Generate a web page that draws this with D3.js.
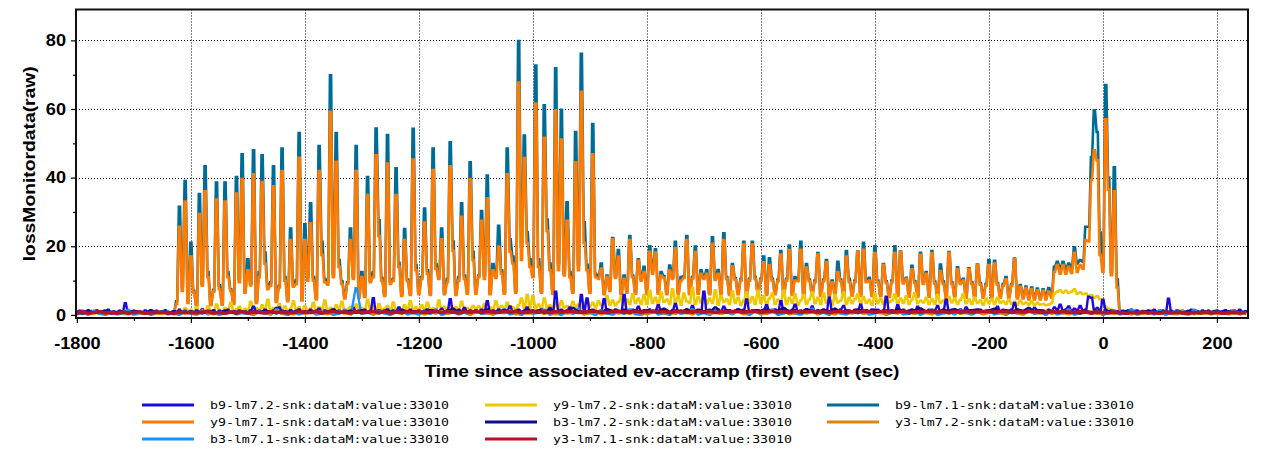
<!DOCTYPE html>
<html>
<head>
<meta charset="utf-8">
<script src="https://cdn.jsdelivr.net/npm/d3@7"></script>
<style>
  body { margin: 0; background: #fff; }
  svg { display: block; }
</style>
</head>
<body>
<svg id="chart" width="1261" height="449"></svg>
<script>
// Sample clocks of the loss-monitor channels (seconds relative to ev-accramp)
const fineStart = -1800, fineStep = 5;
const coarseStart = -1800, coarseStep = 10;

// Axis ticks
const xTicks = [-1800, -1600, -1400, -1200, -1000, -800, -600, -400, -200, 0, 200];
const xMinorTicks = [-1700, -1500, -1300, -1100, -900, -700, -500, -300, -100, 100];
const yTicks = [0, 20, 40, 60, 80];
const yMinorTicks = [10, 30, 50, 70];

// y9-lm7.1 (5 s samples)
const y9lm71 = [
  0.6,0.4,0.8,0.5,0.3,0.7,0.5,0.9,0.4,0.6,0.3,0.8,0.5,0.6,0.4,0.7,0.5,0.3,0.8,0.6,
  0.5,0.7,0.4,0.6,0.8,0.5,0.3,0.6,0.7,0.4,0.5,0.8,0.6,0.4,0.7,3.2,25.7,7.0,33.0,3.5,
  17.0,6.5,2.5,29.4,8.5,36.0,11.0,2.8,6.8,33.6,7.5,3.0,33.0,11.0,7.0,3.2,35.4,9.5,39.6,6.5,
  13.0,8.6,41.0,3.5,11.0,38.7,15.0,7.5,8.5,37.5,3.8,8.0,41.9,10.0,4.0,21.8,8.2,9.0,45.8,4.2,
  21.8,10.0,26.7,10.0,4.5,41.9,17.5,9.5,8.8,59.2,11.0,44.6,14.0,9.0,4.8,9.0,21.8,10.5,41.9,5.0,
  11.0,5.2,34.9,9.5,11.0,46.5,23.0,10.0,5.5,44.1,9.0,10.0,34.9,14.0,5.5,21.8,9.8,5.8,45.3,13.0,
  6.0,10.5,26.9,12.0,5.8,42.2,13.5,10.5,22.0,6.0,9.5,43.3,18.7,5.8,10.0,28.6,10.5,6.2,39.5,16.0,
  6.2,11.0,27.4,10.5,34.0,6.0,13.0,10.8,19.9,12.0,6.2,41.0,18.5,15.0,6.5,67.7,16.0,45.7,20.9,14.0,
  11.0,61.6,14.0,6.5,51.6,24.5,13.0,6.2,59.6,13.0,51.1,11.5,27.4,11.0,6.5,44.5,13.0,65.0,21.0,13.0,
  6.5,46.8,11.0,10.5,13.5,6.0,11.0,7.0,22.0,10.8,17.0,6.0,10.5,6.5,21.8,11.0,6.2,15.8,10.0,12.5,
  6.0,18.4,12.0,18.2,6.2,11.5,10.8,6.0,12.9,10.5,19.4,6.2,10.0,10.8,21.8,6.0,10.5,18.3,6.2,12.0,
  10.5,12.0,6.0,20.7,10.2,12.0,6.0,21.8,10.5,5.8,14.2,10.2,6.0,10.0,20.5,5.8,10.0,20.5,10.5,6.0,
  10.0,15.3,5.8,14.5,10.0,6.0,9.8,17.6,5.6,10.0,18.9,5.8,10.0,9.8,19.0,5.6,13.8,9.8,5.8,9.5,
  17.6,5.5,9.8,15.3,5.5,9.5,5.8,12.5,9.8,5.5,17.0,9.5,5.6,9.5,18.3,5.5,19.0,9.5,10.0,5.5,
  18.0,9.5,5.5,14.5,9.3,5.2,9.5,18.0,5.5,18.3,9.2,10.5,5.3,13.3,9.3,5.2,17.5,9.0,12.0,5.3,
  18.0,9.2,5.2,12.8,9.0,5.0,18.1,9.0,5.2,13.3,9.0,10.0,5.0,13.3,9.0,5.0,14.5,8.8,5.0,8.5,
  14.5,5.0,15.0,8.8,5.0,8.5,10.4,4.8,8.5,16.2,4.8,8.2,4.8,7.8,4.5,7.5,4.5,7.2,4.5,7.0,
  4.5,6.8,5.0,12.5,14.5,12.0,14.5,12.0,14.0,12.2,18.1,12.5,14.5,13.5,21.8,21.4,39.3,48.0,45.0,17.5,
  12.6,57.0,36.5,11.6,36.0,8.0,0.8,0.5,0.7,0.4,0.6,0.8,0.5,0.3,0.7,0.6,0.4,0.8,0.5,0.6,
  0.7,0.4,0.6,0.5,0.8,0.3,0.6,0.7,0.4,0.5,0.8,0.6,0.3,0.7,0.5,0.6,0.4,0.8,0.5,0.7,
  0.5,0.6,0.4,0.7,0.5,0.8,0.6,0.4,0.7,0.5,0.6,0.4
];

// b9-lm7.1 (5 s samples)
const b9lm71 = [
  1.0,0.8,1.2,0.9,0.7,1.1,0.9,1.3,0.8,1.0,0.7,1.2,0.9,1.0,0.8,1.1,0.9,0.7,1.2,1.0,
  0.7,0.9,0.6,0.8,1.0,0.7,0.5,0.8,0.9,0.6,0.7,1.0,0.8,0.6,0.9,4.0,31.5,8.3,39.0,4.2,
  21.0,7.0,3.0,35.2,9.2,43.3,12.5,3.3,7.3,38.6,8.6,3.5,38.6,12.5,7.5,3.7,40.2,10.5,46.8,7.0,
  16.2,9.2,48.0,4.0,12.5,46.5,18.2,8.0,9.5,43.3,4.3,8.5,48.5,11.0,4.5,25.2,8.7,10.2,53.0,4.7,
  26.4,11.0,32.5,11.0,5.0,49.2,21.3,10.5,9.3,69.8,12.0,53.0,16.0,9.8,5.3,9.5,25.2,11.2,49.2,5.5,
  12.5,5.7,40.2,10.0,12.5,54.3,27.6,10.8,6.0,52.4,9.8,10.5,42.7,15.2,6.0,25.0,10.3,6.3,54.2,14.5,
  6.5,11.0,31.0,13.0,6.3,48.5,14.8,11.0,25.2,6.5,10.5,50.3,21.4,6.3,11.0,32.5,11.5,6.7,44.5,18.4,
  6.7,11.5,30.3,11.5,40.6,6.5,14.8,11.3,26.0,13.0,6.7,48.5,22.0,17.0,7.0,79.8,20.0,52.3,24.1,16.2,
  11.5,72.7,16.2,7.0,61.1,27.8,15.0,6.7,71.9,15.0,59.8,12.0,32.8,12.5,7.0,53.3,14.6,76.1,27.0,14.6,
  7.0,55.6,12.0,11.0,15.0,6.5,11.5,7.5,22.4,11.3,18.9,6.5,11.5,7.0,23.0,11.5,6.7,16.2,10.5,14.0,
  6.5,20.0,13.0,19.1,6.7,12.5,11.3,6.5,14.4,11.0,21.3,6.7,11.0,11.3,23.0,6.5,11.0,19.9,6.7,13.0,
  11.0,13.0,6.5,22.6,10.7,13.1,6.5,23.8,11.0,6.3,14.8,10.7,6.5,10.5,21.3,6.3,10.5,21.3,11.0,6.5,
  10.5,17.0,6.3,16.5,10.5,6.5,10.3,18.6,6.1,10.5,20.2,6.3,11.0,10.3,21.3,6.1,14.8,10.3,6.3,10.0,
  18.0,6.0,10.3,16.0,6.0,10.0,6.3,15.5,10.3,6.0,18.6,10.5,6.1,10.0,18.5,6.0,21.0,10.0,10.8,6.0,
  20.0,10.0,6.0,14.8,9.8,5.7,10.0,20.0,6.0,18.5,9.7,10.8,5.8,14.3,9.8,5.7,18.1,9.5,12.5,5.8,
  18.6,9.7,5.7,14.7,9.8,5.5,18.3,9.5,5.7,13.9,9.5,10.5,5.5,13.6,9.5,5.5,14.7,9.3,5.5,9.0,
  16.0,5.5,15.8,9.3,5.5,9.0,11.0,5.3,9.0,16.4,5.3,8.7,5.3,8.3,5.0,8.0,5.0,7.7,5.0,7.5,
  5.5,7.8,6.0,14.0,15.5,13.5,15.5,13.5,15.0,13.7,19.7,15.0,16.0,15.5,25.7,25.7,46.0,59.6,53.3,24.0,
  14.0,67.0,40.0,12.5,43.0,10.4,1.2,0.9,1.1,0.8,1.0,1.2,0.9,0.7,1.1,1.0,0.8,1.2,0.9,1.0,
  1.1,0.8,1.0,0.9,1.2,0.7,1.0,1.1,0.8,0.9,1.2,1.0,0.7,1.1,0.9,1.0,0.8,1.2,0.9,1.1,
  0.9,1.0,0.8,1.1,0.9,1.2,1.0,0.8,1.1,0.9,1.0,0.8
];

// y9-lm7.2 (5 s samples)
const y9lm72 = [
  0.4,0.7,0.3,0.9,0.5,0.6,1.0,0.4,0.8,0.5,0.3,0.7,0.6,0.9,0.4,0.5,0.8,0.3,0.6,0.7,
  0.5,0.8,0.4,0.6,1.1,0.5,0.7,0.3,0.9,0.6,0.4,0.8,0.5,0.7,0.6,1.0,1.5,0.8,2.0,1.2,
  1.5,0.8,2.2,1.0,1.8,0.9,2.5,1.2,0.8,3.0,1.5,1.0,2.0,1.2,3.5,1.0,1.6,2.4,0.9,1.8,
  1.2,3.8,1.5,2.0,1.0,2.8,1.4,4.4,1.2,2.0,1.0,3.2,1.5,2.5,1.1,1.8,4.0,1.3,2.2,1.0,
  2.6,1.2,1.8,3.5,1.0,2.2,1.5,4.2,1.3,2.0,1.0,2.8,1.6,3.8,1.2,1.5,2.4,1.0,3.0,1.4,
  2.0,1.2,4.4,1.5,2.5,1.0,3.2,1.4,1.8,2.6,1.1,3.6,1.5,2.0,1.2,2.8,1.6,4.0,1.3,2.2,
  1.5,2.8,1.2,3.5,1.6,2.0,1.2,4.2,1.5,2.4,1.3,3.0,1.6,2.2,1.2,3.8,1.5,2.0,1.4,2.6,
  1.8,2.5,1.3,3.2,1.6,2.2,1.4,4.0,1.8,2.6,1.5,3.5,1.7,2.2,1.5,2.8,4.8,2.0,5.8,2.2,
  5.5,2.0,3.0,1.8,4.8,2.2,2.8,1.8,3.5,2.0,4.0,2.2,2.6,1.8,3.8,2.4,3.0,2.0,2.8,4.5,
  2.5,3.5,2.2,4.0,2.8,3.2,5.5,3.0,4.2,2.8,3.8,5.2,3.0,4.5,3.2,6.0,3.5,4.8,3.2,5.8,
  3.2,7.0,3.5,5.0,3.0,6.5,3.8,4.5,3.2,7.5,3.5,5.5,3.0,6.2,4.0,3.5,7.8,3.2,5.2,3.6,
  6.0,3.2,4.8,3.5,7.2,3.0,5.5,3.8,4.5,3.2,6.8,3.5,5.0,3.0,4.2,6.5,3.5,5.2,3.2,7.0,
  3.5,5.5,3.0,4.8,6.2,3.2,4.5,3.6,7.0,3.2,5.0,3.5,6.0,3.0,4.2,5.8,3.2,4.5,6.5,3.4,
  5.0,3.2,6.2,3.5,4.5,3.0,5.8,3.6,4.2,6.5,3.2,5.0,3.4,4.6,6.0,3.2,5.2,3.5,4.4,3.0,
  6.2,3.4,4.8,3.2,5.5,3.6,4.2,6.0,3.2,4.8,3.5,5.4,3.2,4.5,6.3,3.4,4.2,3.6,5.0,3.2,
  4.6,3.3,5.8,3.5,4.2,3.2,5.2,3.6,4.8,3.2,4.4,6.0,3.4,4.5,3.2,5.0,3.5,4.2,3.0,4.8,
  3.4,4.6,3.2,5.0,3.5,4.0,3.2,4.5,3.3,3.8,3.0,4.2,3.2,3.6,3.0,4.0,2.8,3.5,3.0,3.2,
  2.8,3.0,3.5,6.2,6.8,7.2,6.5,7.0,6.4,6.8,7.5,6.2,6.6,6.0,6.2,5.5,5.8,5.0,5.5,4.6,
  3.2,2.4,1.8,1.5,1.2,0.8,0.5,0.7,0.4,0.6,0.3,0.8,0.5,0.7,0.4,0.6,0.5,0.9,0.4,0.6,
  0.5,0.8,0.4,0.6,0.3,0.7,0.5,0.9,0.4,0.6,0.8,0.5,0.3,0.7,0.6,0.4,0.8,0.5,0.6,0.4,
  0.7,0.5,0.8,0.4,0.6,0.3,0.7,0.5,0.9,0.4,0.6,0.5
];

// b9-lm7.2 (5 s samples)
const b9lm72 = [
  0.8,1.2,0.5,1.0,1.4,0.6,0.9,1.3,0.4,1.1,0.7,1.5,0.6,1.0,0.5,1.2,0.8,3.4,0.7,1.0,
  0.6,1.1,0.9,0.4,1.3,0.7,1.0,0.5,1.2,0.8,0.6,1.4,0.9,0.5,1.1,0.7,1.5,0.8,1.2,0.6,
  1.0,0.5,1.3,0.8,1.6,0.6,1.1,0.9,1.4,0.5,1.2,0.8,1.0,1.5,0.6,1.1,0.9,1.3,0.7,1.0,
  0.8,1.4,2.4,0.9,1.2,0.6,1.5,1.0,0.7,1.3,2.0,2.2,0.8,1.1,0.6,1.4,0.9,1.2,1.6,0.7,
  1.1,0.8,1.5,0.6,1.2,1.8,0.9,1.3,0.7,1.0,1.6,0.8,1.2,0.6,1.4,0.9,1.1,2.0,0.7,1.3,
  0.9,1.5,0.8,1.2,4.9,0.9,1.4,0.7,1.1,1.6,0.8,1.3,1.0,2.2,0.7,1.2,0.9,1.5,0.8,1.1,
  1.3,0.8,1.2,1.6,0.9,1.4,0.7,1.1,1.8,0.9,1.2,4.6,1.0,0.8,1.5,1.1,2.0,0.9,1.3,0.8,
  1.2,0.9,1.5,1.1,4.0,0.8,1.3,1.0,1.6,0.9,1.2,1.4,2.5,0.8,1.1,1.5,0.9,1.3,2.2,1.0,
  1.4,0.9,1.2,1.6,1.0,1.3,2.0,0.9,6.8,1.2,1.5,1.0,1.3,2.2,0.8,1.4,1.1,5.8,1.2,4.8,
  1.0,1.5,1.2,0.9,1.4,4.6,1.1,1.3,0.8,1.6,1.2,1.0,5.8,1.3,0.9,1.5,1.1,2.4,1.0,1.4,
  1.2,1.6,0.9,1.3,2.8,1.0,1.5,1.2,0.8,1.4,3.2,1.1,1.3,0.9,1.6,1.2,2.6,1.0,1.4,1.1,
  6.8,1.2,1.5,0.9,1.3,1.6,1.0,2.4,1.2,1.4,0.9,1.3,1.7,1.0,1.5,4.5,1.1,1.3,0.9,1.4,
  1.2,1.5,2.8,1.0,1.3,1.6,0.9,4.0,1.2,1.4,1.0,1.5,3.0,1.1,1.3,0.9,1.6,1.2,2.5,1.0,
  1.4,1.1,1.5,0.9,5.0,1.2,1.4,1.0,1.6,2.6,1.1,1.3,0.9,1.5,1.2,3.0,1.0,1.4,1.1,1.6,
  1.2,1.5,1.0,1.3,5.2,1.1,1.4,0.9,2.8,1.2,1.5,1.0,1.3,1.6,0.9,2.4,1.2,1.4,1.0,1.5,
  1.1,1.4,2.6,1.0,1.3,4.4,1.2,1.5,0.9,1.3,1.6,1.0,2.2,1.2,1.4,0.9,1.3,1.5,1.0,1.2,
  1.4,1.0,1.3,2.4,1.1,1.5,0.9,1.2,1.6,3.5,1.0,1.3,1.1,1.5,0.9,1.2,2.0,1.4,1.0,1.3,
  1.1,1.5,1.2,2.2,1.4,3.0,1.3,1.6,2.5,1.2,1.8,1.4,2.6,1.3,1.6,5.3,5.0,1.4,2.0,1.2,
  4.4,1.5,1.0,1.3,0.8,1.1,0.6,1.2,0.9,1.4,0.7,1.0,1.3,0.8,1.1,0.6,1.2,0.9,1.5,0.7,
  1.0,1.3,0.8,4.7,1.1,0.7,1.4,0.9,1.2,0.6,1.0,1.5,0.8,1.1,0.7,1.3,0.9,1.2,0.6,1.0,
  1.3,0.8,1.1,1.4,0.7,1.0,1.2,0.9,1.5,0.8,1.1,0.9
];

// b3-lm7.1 (10 s samples)
const b3lm71 = [
  0.2,0.6,0.1,1.2,0.3,0.0,0.8,0.2,0.4,1.5,0.1,0.3,0.7,0.0,0.5,1.1,0.2,0.4,0.0,0.9,
  0.3,0.1,1.4,0.2,0.6,0.0,0.4,1.0,0.2,0.5,0.3,0.0,0.9,0.5,0.1,1.6,0.3,0.0,0.7,0.2,
  0.5,1.2,0.1,0.3,0.8,0.0,0.4,1.5,0.2,7.8,0.3,0.6,0.1,1.0,0.4,0.0,0.7,1.3,0.2,0.5,
  0.1,0.9,0.3,1.6,0.0,0.4,1.1,0.2,0.6,0.0,1.4,0.3,0.5,0.1,0.8,1.7,0.2,0.4,0.0,1.2,
  0.3,0.6,1.5,0.1,0.4,0.0,1.0,0.3,1.8,0.2,0.5,0.0,1.3,0.4,0.1,0.9,0.3,1.6,0.2,0.0,
  0.6,1.4,0.2,0.4,0.0,1.1,0.3,0.7,1.7,0.1,0.5,0.0,1.2,0.3,0.8,0.2,1.5,0.4,0.0,1.0,
  0.2,0.5,1.6,0.0,0.4,1.2,0.3,0.1,0.9,1.8,0.2,0.6,0.0,1.3,0.4,0.2,1.0,0.5,1.4,0.1,
  0.4,1.1,0.0,0.6,1.5,0.2,0.3,1.2,0.1,0.7,1.6,0.0,0.4,0.9,0.2,1.3,0.5,0.1,0.8,0.3,
  1.4,0.2,0.6,0.0,1.0,0.4,0.1,1.5,0.3,0.7,0.0,1.2,0.2,0.5,1.6,0.1,0.4,0.9,0.3,1.1,
  0.0,0.6,1.3,0.2,0.4,1.7,0.1,0.5,0.9,0.2,1.4,0.0,0.6,1.2,0.3,0.1,1.5,0.4,0.8,0.2,
  1.0,0.3,0.6,1.4,0.2,0.5
];

// b3-lm7.2 (10 s samples)
const b3lm72 = [
  0.8,0.5,1.1,0.6,0.9,1.3,0.4,0.7,1.0,0.5,1.2,0.8,0.6,1.4,0.7,0.9,0.5,1.1,0.8,0.6,
  1.0,0.7,0.5,1.2,0.9,0.6,1.3,0.8,0.4,1.1,0.7,1.0,0.6,1.4,0.8,0.5,1.2,0.9,0.7,1.1,
  0.6,1.3,0.9,0.5,1.0,1.6,0.7,0.9,1.2,0.6,1.4,0.8,1.0,0.5,1.3,0.9,0.7,1.5,0.8,1.1,
  0.9,0.6,1.4,1.0,0.7,1.2,1.8,0.8,1.1,0.6,1.3,0.9,1.6,0.7,1.0,1.4,0.8,1.2,0.6,1.5,
  1.0,1.3,0.7,1.6,0.9,1.2,0.8,2.0,1.1,0.7,1.4,1.0,0.8,1.7,1.2,0.9,1.5,0.7,1.3,1.0,
  1.4,0.8,1.2,1.8,0.9,1.3,1.0,1.6,0.7,1.5,1.1,0.9,2.2,1.0,1.3,0.8,1.6,1.2,0.9,1.4,
  1.1,1.6,0.9,1.3,2.0,1.0,1.4,0.8,1.7,1.2,0.9,1.5,1.1,1.8,0.8,1.3,1.0,1.6,1.2,0.9,
  1.5,1.0,1.3,0.8,1.7,1.2,0.9,1.4,1.9,1.0,1.3,0.8,1.5,1.1,1.7,0.9,1.2,1.4,1.6,1.0,
  1.3,1.8,1.0,1.4,0.9,1.6,1.2,2.0,1.0,1.4,0.8,1.1,0.7,1.0,0.6,0.9,0.5,1.1,0.7,0.9,
  0.6,1.0,0.7,0.5,1.1,0.8,0.6,0.9,1.2,0.5,0.8,1.0,0.6,0.9,0.7,1.1,0.5,0.8,1.0,0.6,
  0.9,0.7,1.1,0.5,0.8,0.6
];

// y3-lm7.1 (10 s samples)
const y3lm71 = [
  0.6,0.8,0.5,0.7,0.9,0.6,0.7,0.5,0.8,0.6,0.7,0.9,0.5,0.6,0.8,0.7,0.6,0.5,0.8,0.7,
  0.7,0.6,0.8,0.9,0.6,0.7,0.5,0.8,0.7,0.9,0.6,0.8,0.7,0.6,0.9,0.7,0.8,0.6,0.7,0.9,
  0.8,0.7,0.9,0.6,0.8,1.0,0.7,0.8,0.6,0.9,0.7,0.8,1.0,0.7,0.9,0.6,0.8,0.7,0.9,0.8,
  0.9,0.7,0.8,1.0,0.7,0.9,0.8,0.6,0.9,0.8,1.0,0.7,0.9,0.8,0.7,1.0,0.8,0.9,0.7,0.8,
  0.9,0.8,1.0,0.7,0.9,0.8,1.0,0.9,0.7,0.8,1.0,0.9,0.8,0.7,0.9,1.0,0.8,0.9,1.0,0.8,
  0.9,1.0,0.8,0.9,0.7,1.0,0.9,0.8,1.0,0.9,0.8,1.0,0.7,0.9,0.8,1.0,0.9,0.8,0.9,1.0,
  0.8,0.9,1.0,0.8,0.9,0.7,1.0,0.8,0.9,1.0,0.8,0.9,0.7,0.9,1.0,0.8,0.9,0.8,1.0,0.9,
  0.8,1.0,0.9,0.8,0.9,1.0,0.7,0.9,0.8,1.0,0.9,0.8,0.9,0.7,1.0,0.8,0.9,0.8,0.9,1.0,
  0.9,0.8,1.0,0.9,0.7,0.9,0.8,1.0,0.9,0.8,0.7,0.9,0.8,0.9,0.8,0.7,0.9,0.8,0.6,0.8,
  0.7,0.6,0.8,0.7,0.5,0.7,0.6,0.8,0.6,0.7,0.5,0.8,0.6,0.7,0.6,0.5,0.7,0.6,0.8,0.6,
  0.7,0.5,0.6,0.8,0.6,0.7
];

// y3-lm7.2 (10 s samples)
const y3lm72 = [
  0.4,0.9,0.2,0.6,1.1,0.3,0.7,0.5,1.0,0.2,0.8,0.4,0.6,1.2,0.3,0.5,0.9,0.2,0.7,0.4,
  0.6,0.3,1.0,0.5,0.2,0.8,0.4,1.1,0.3,0.7,0.5,0.2,0.9,0.6,0.3,1.2,0.4,0.7,0.2,0.8,
  0.3,0.7,0.5,1.0,0.2,0.6,0.9,0.4,0.3,1.1,0.5,0.8,0.2,0.6,1.0,0.4,0.7,0.3,0.9,0.5,
  0.8,0.2,0.6,0.4,1.1,0.3,0.7,0.5,0.9,0.2,0.6,1.0,0.4,0.3,0.8,0.5,1.2,0.2,0.6,0.4,
  0.5,1.0,0.3,0.7,0.2,0.9,0.4,0.6,1.1,0.3,0.5,0.8,0.2,0.7,1.0,0.4,0.6,0.3,0.9,0.5,
  0.2,0.7,1.0,0.4,0.6,0.3,0.9,0.5,0.2,0.8,1.1,0.4,0.6,0.3,0.7,0.5,1.0,0.2,0.6,0.8,
  0.4,0.3,0.8,0.6,1.0,0.2,0.5,0.9,0.4,0.7,0.3,1.1,0.5,0.2,0.8,0.6,0.4,1.0,0.3,0.7,
  0.9,0.5,0.2,0.7,0.4,1.1,0.6,0.3,0.8,0.5,0.2,0.9,0.7,0.4,1.0,0.3,0.6,0.5,0.8,0.2,
  0.6,1.0,0.4,0.3,0.8,0.5,0.2,0.9,0.6,0.4,1.1,0.3,0.7,0.5,0.2,0.8,0.4,0.6,1.0,0.3,
  0.5,0.8,0.3,0.6,1.0,0.2,0.7,0.4,0.9,0.5,0.3,0.8,0.6,0.2,1.1,0.4,0.7,0.3,0.5,0.9,
  0.4,0.6,0.2,0.8,0.5,0.3
];

// Channel table: legend slot (col,row), stacking order, colour
const channels = [
  { label: "b9-lm7.2-snk:dataM:value:33010", values: b9lm72, start: fineStart,   step: fineStep,   color: "#1e0adc", width: 2.4, col: 0, row: 0, z: 3 },
  { label: "y9-lm7.1-snk:dataM:value:33010", values: y9lm71, start: fineStart,   step: fineStep,   color: "#ff7b00", width: 2.6, col: 0, row: 1, z: 1 },
  { label: "b3-lm7.1-snk:dataM:value:33010", values: b3lm71, start: coarseStart, step: coarseStep, color: "#1e90ff", width: 2.4, col: 0, row: 2, z: 4 },
  { label: "y9-lm7.2-snk:dataM:value:33010", values: y9lm72, start: fineStart,   step: fineStep,   color: "#eec800", width: 2.6, col: 1, row: 0, z: 2 },
  { label: "b3-lm7.2-snk:dataM:value:33010", values: b3lm72, start: coarseStart, step: coarseStep, color: "#0c0c8c", width: 2.4, col: 1, row: 1, z: 6 },
  { label: "y3-lm7.1-snk:dataM:value:33010", values: y3lm71, start: coarseStart, step: coarseStep, color: "#b41428", width: 3.6, col: 1, row: 2, z: 7 },
  { label: "b9-lm7.1-snk:dataM:value:33010", values: b9lm71, start: fineStart,   step: fineStep,   color: "#006c96", width: 2.6, col: 2, row: 0, z: 0 },
  { label: "y3-lm7.2-snk:dataM:value:33010", values: y3lm72, start: coarseStart, step: coarseStep, color: "#e0860a", width: 2.4, col: 2, row: 1, z: 5 }
];

const svg = d3.select("#chart");
const plot = { left: 76, right: 1248, top: 9.5, bottom: 318 };

const x = d3.scaleLinear().domain([-1801.5, 254.5]).range([plot.left, plot.right]);
const y = d3.scaleLinear().domain([-0.9, 89]).range([plot.bottom, plot.top]);

svg.append("rect").attr("width", 1261).attr("height", 449).attr("fill", "#fff");

svg.append("defs").append("clipPath").attr("id", "plot-clip")
  .append("rect")
  .attr("x", plot.left).attr("y", plot.top)
  .attr("width", plot.right - plot.left).attr("height", plot.bottom - plot.top);

// Dotted grid at the major ticks
const grid = svg.append("g")
  .attr("stroke", "#000").attr("stroke-width", 1).attr("stroke-dasharray", "1,2");
grid.selectAll("line.gx")
  .data(xTicks.filter(v => x(v) > plot.left + 2 && x(v) < plot.right - 2))
  .join("line").attr("class", "gx")
  .attr("x1", d => Math.round(x(d)) + 0.5).attr("x2", d => Math.round(x(d)) + 0.5)
  .attr("y1", plot.top).attr("y2", plot.bottom);
grid.selectAll("line.gy")
  .data(yTicks.filter(v => v > 0))
  .join("line").attr("class", "gy")
  .attr("y1", d => Math.round(y(d)) + 0.5).attr("y2", d => Math.round(y(d)) + 0.5)
  .attr("x1", plot.left).attr("x2", plot.right);

// Each sample is held for a short flat segment, joined to its neighbours
function curveHold(context) {
  let first = true;
  const half = 0.6;
  return {
    areaStart() {}, areaEnd() {},
    lineStart() { first = true; },
    lineEnd() {},
    point(px, py) {
      if (first) { context.moveTo(px - half, py); first = false; }
      else context.lineTo(px - half, py);
      context.lineTo(px + half, py);
    }
  };
}

const trace = d3.line()
  .curve(curveHold)
  .x(d => x(d.t))
  .y(d => y(d.v));

const traces = svg.append("g").attr("clip-path", "url(#plot-clip)");
channels.slice().sort((a, b) => a.z - b.z).forEach(ch => {
  const pts = ch.values.map((v, i) => ({ t: ch.start + i * ch.step, v }));
  traces.append("path")
    .datum(pts)
    .attr("fill", "none")
    .attr("stroke", ch.color)
    .attr("stroke-width", ch.width)
    .attr("stroke-linejoin", "miter")
    .attr("stroke-miterlimit", 3)
    .attr("d", trace);
});

// Frame
svg.append("rect")
  .attr("x", plot.left).attr("y", plot.top)
  .attr("width", plot.right - plot.left).attr("height", plot.bottom - plot.top)
  .attr("fill", "none").attr("stroke", "#111").attr("stroke-width", 2);

// Axes
const tickFont = "'Liberation Sans', Arial, Helvetica, sans-serif";
function styleAxis(g) {
  g.select(".domain").remove();
  g.selectAll(".tick line").attr("stroke", "#000").attr("stroke-width", 1.2);
  g.selectAll(".tick text")
    .attr("font-family", tickFont).attr("font-size", 16.5).attr("font-weight", "bold")
    .attr("fill", "#000");
}
const xAxis = svg.append("g").attr("transform", `translate(0,${plot.bottom})`)
  .call(d3.axisBottom(x).tickValues(xTicks).tickSize(5).tickPadding(14).tickFormat(d => String(d)))
  .call(styleAxis);
svg.append("g").attr("transform", `translate(0,${plot.bottom})`)
  .call(d3.axisBottom(x).tickValues(xMinorTicks).tickSize(3).tickFormat(""))
  .call(styleAxis);
const yAxis = svg.append("g").attr("transform", `translate(${plot.left},0)`)
  .call(d3.axisLeft(y).tickValues(yTicks).tickSize(5).tickPadding(5).tickFormat(d => String(d)))
  .call(styleAxis);
svg.append("g").attr("transform", `translate(${plot.left},0)`)
  .call(d3.axisLeft(y).tickValues(yMinorTicks).tickSize(3).tickFormat(""))
  .call(styleAxis);

// Widen the tick labels slightly
[xAxis, yAxis].forEach(g => g.selectAll(".tick text").each(function () {
  const len = this.getComputedTextLength();
  d3.select(this).attr("textLength", len * 1.1).attr("lengthAdjust", "spacingAndGlyphs");
}));

// Axis titles
svg.append("text")
  .attr("x", (plot.left + plot.right) / 2).attr("y", 377)
  .attr("text-anchor", "middle")
  .attr("font-family", tickFont).attr("font-size", 17).attr("font-weight", "bold")
  .attr("textLength", 475).attr("lengthAdjust", "spacingAndGlyphs")
  .text("Time since associated ev-accramp (first) event (sec)");

svg.append("text")
  .attr("transform", `translate(35,${(plot.top + plot.bottom) / 2}) rotate(-90)`)
  .attr("text-anchor", "middle")
  .attr("font-family", tickFont).attr("font-size", 17).attr("font-weight", "bold")
  .attr("textLength", 195).attr("lengthAdjust", "spacingAndGlyphs")
  .text("lossMonitordata(raw)");

// Legend
const legendCols = [142, 485, 827];
const legendRows = [405, 422, 439];
const legend = svg.append("g");
channels.forEach(ch => {
  const x0 = legendCols[ch.col], y0 = legendRows[ch.row];
  legend.append("line")
    .attr("x1", x0).attr("x2", x0 + 52)
    .attr("y1", y0).attr("y2", y0)
    .attr("stroke", ch.color).attr("stroke-width", 3);
  legend.append("text")
    .attr("x", x0 + 68).attr("y", y0 + 4.3)
    .attr("font-family", "'DejaVu Sans Mono', 'Liberation Mono', monospace")
    .attr("font-size", 11).attr("fill", "#000")
    .attr("textLength", 239).attr("lengthAdjust", "spacingAndGlyphs")
    .text(ch.label);
});
</script>
</body>
</html>
